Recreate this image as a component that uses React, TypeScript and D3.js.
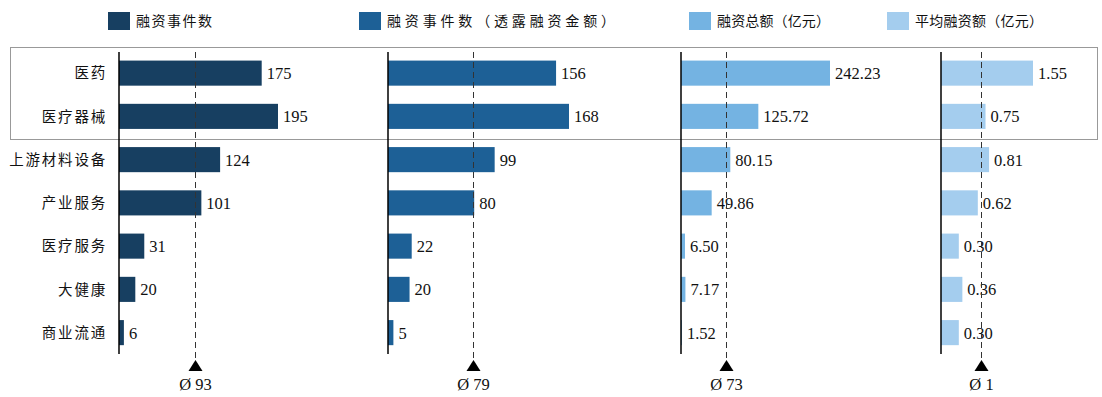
import React, { useEffect, useRef } from 'react';
import * as d3 from 'd3';

// 数据
const categories = ['医药', '医疗器械', '上游材料设备', '产业服务', '医疗服务', '大健康', '商业流通'];
const seriesNames = ['融资事件数', '融资事件数（透露融资金额）', '融资总额（亿元）', '平均融资额（亿元）'];
const dealCounts = [175, 195, 124, 101, 31, 20, 6];
const disclosedCounts = [156, 168, 99, 80, 22, 20, 5];
const totalAmounts = [242.23, 125.72, 80.15, 49.86, 6.5, 7.17, 1.52];
const avgAmounts = [1.55, 0.75, 0.81, 0.62, 0.3, 0.36, 0.3];

const W = 1102;
const H = 397;
const cnFont = '"Noto Sans CJK SC", sans-serif';
const numFont = '"Liberation Serif", "Times New Roman", serif';

const App = () => {
  const ref = useRef<SVGSVGElement>(null);

  useEffect(() => {
    const svg = d3.select(ref.current);
    svg.selectAll('*').remove();

    const panels = [
      { name: seriesNames[0], values: dealCounts, x0: 119, w: 159, color: '#173f61', fmt: d3.format('d'), legendX: 108, legendW: 76 },
      { name: seriesNames[1], values: disclosedCounts, x0: 388, w: 181, color: '#1d6096', fmt: d3.format('d'), legendX: 359, legendW: 228 },
      { name: seriesNames[2], values: totalAmounts, x0: 681, w: 149, color: '#74b3e2', fmt: d3.format('.2f'), legendX: 689, legendW: 113 },
      { name: seriesNames[3], values: avgAmounts, x0: 941, w: 92, color: '#a4cdee', fmt: d3.format('.2f'), legendX: 887, legendW: 128 },
    ];

    const y = d3.scaleBand()
      .domain(categories)
      .range([51.5, 354.25])
      .paddingInner(0.42)
      .paddingOuter(0.21);

    // 虚线框（前两行）
    svg.append('rect')
      .attr('x', 10.5)
      .attr('y', 47.5)
      .attr('width', 1087)
      .attr('height', 92)
      .attr('fill', 'none')
      .attr('stroke', '#333')
      .attr('stroke-width', 1)
      .attr('stroke-dasharray', '1,1');

    // 类别标签
    svg.append('g')
      .selectAll('text')
      .data(categories)
      .enter().append('text')
      .attr('x', 107)
      .attr('y', d => y(d)! + y.bandwidth() / 2)
      .attr('dy', '0.36em')
      .attr('text-anchor', 'end')
      .style('font-family', cnFont)
      .style('font-size', '14.5px')
      .style('letter-spacing', '1.8px')
      .style('fill', '#111')
      .text(d => d);

    panels.forEach(p => {
      const x = d3.scaleLinear()
        .domain([0, d3.max(p.values)!])
        .range([p.x0, p.x0 + p.w]);
      const g = svg.append('g');

      // 图例
      svg.append('rect')
        .attr('x', p.legendX)
        .attr('y', 12)
        .attr('width', 22)
        .attr('height', 18)
        .attr('fill', p.color);
      svg.append('text')
        .attr('x', p.legendX + 28)
        .attr('y', 21)
        .attr('dy', '0.36em')
        .attr('textLength', p.legendW)
        .attr('lengthAdjust', 'spacing')
        .style('font-family', cnFont)
        .style('font-size', '14px')
        .style('fill', '#111')
        .text(p.name);

      // 条形
      g.selectAll('.bar')
        .data(p.values)
        .enter().append('rect')
        .attr('x', x(0))
        .attr('y', (d, i) => y(categories[i])!)
        .attr('width', d => x(d) - x(0))
        .attr('height', y.bandwidth())
        .attr('fill', p.color);

      // 数值
      g.selectAll('.label')
        .data(p.values)
        .enter().append('text')
        .attr('x', d => x(d) + 5)
        .attr('y', (d, i) => y(categories[i])! + y.bandwidth() / 2)
        .attr('dy', '0.36em')
        .style('font-family', numFont)
        .style('font-size', '16.5px')
        .style('fill', '#111')
        .text(d => p.fmt(d));

      // 平均线
      const mean = d3.mean(p.values)!;
      const mx = Math.round(x(mean)) + 0.5;
      g.append('line')
        .attr('x1', mx)
        .attr('x2', mx)
        .attr('y1', 52)
        .attr('y2', 360)
        .attr('stroke', '#333')
        .attr('stroke-width', 1)
        .attr('stroke-dasharray', '6,4');

      g.append('path')
        .attr('d', `M${mx},360 L${mx + 7},371 L${mx - 7},371 Z`)
        .attr('fill', '#000');

      g.append('text')
        .attr('x', mx)
        .attr('y', 390)
        .attr('text-anchor', 'middle')
        .style('font-family', numFont)
        .style('font-size', '16.5px')
        .style('fill', '#111')
        .text(`Ø ${d3.format('.0f')(mean)}`);

      // 轴线
      g.append('line')
        .attr('x1', x(0))
        .attr('x2', x(0))
        .attr('y1', 52)
        .attr('y2', 354)
        .attr('stroke', '#000')
        .attr('stroke-width', 1.5);
    });
  }, []);

  return (
    <svg
      ref={ref}
      width={W}
      height={H}
      style={{ position: 'absolute', left: 0, top: 0, background: '#fff' }}
    />
  );
};

export default App;
